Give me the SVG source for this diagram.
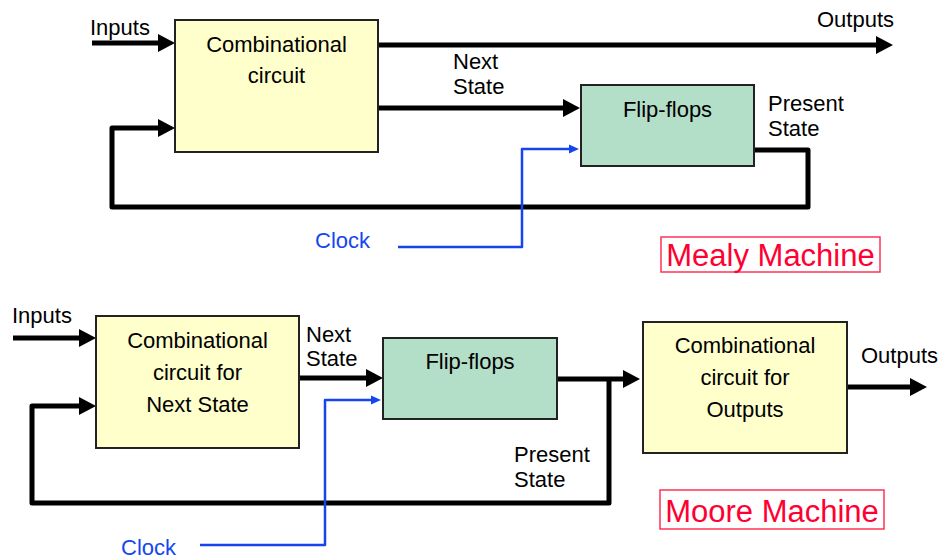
<svg xmlns="http://www.w3.org/2000/svg" width="941" height="559" viewBox="0 0 941 559">
<style>
text{font-family:"Liberation Sans",Arial,sans-serif;font-size:22px;fill:#000}
.c{text-anchor:middle}
.comb{fill:#FFFFCC;stroke:#222;stroke-width:2}
.ff{fill:#B3DEC8;stroke:#222;stroke-width:2}
.w{fill:none;stroke:#000;stroke-width:5;stroke-linejoin:round}
.clk{fill:none;stroke:#1446F0;stroke-width:2.5;stroke-linejoin:round}
.blue{fill:#1446F0}
.title{fill:#FF0033;font-size:31px}
.tbox{fill:none;stroke:#FF3355;stroke-width:1.5}
</style>
<defs>
<marker id="ah" markerUnits="userSpaceOnUse" markerWidth="17" markerHeight="18" refX="5" refY="9" orient="auto"><path d="M0,0 L17,9 L0,18 z" fill="#000"/></marker>
<marker id="ab" markerUnits="userSpaceOnUse" markerWidth="10" markerHeight="10" refX="3" refY="5" orient="auto"><path d="M0,0.5 L10,5 L0,9.5 z" fill="#1446F0"/></marker>
</defs>

<g id="connectors">
<!-- Mealy -->
<path class="w" d="M92,43 H163" marker-end="url(#ah)"/>
<path class="w" d="M378,45 H881" marker-end="url(#ah)"/>
<path class="w" d="M378,108 H568" marker-end="url(#ah)"/>
<path class="w" d="M754,150 H808 V207 H112 V128 H163" marker-end="url(#ah)"/>
<path class="clk" d="M398,247 H522 V149 H572" marker-end="url(#ab)"/>
<!-- Moore -->
<path class="w" d="M13,338 H84" marker-end="url(#ah)"/>
<path class="w" d="M609,379 V503 H32 V406 H84" marker-end="url(#ah)"/>
<path class="w" d="M299,378 H371" marker-end="url(#ah)"/>
<path class="w" d="M557,379 H628" marker-end="url(#ah)"/>
<path class="w" d="M847,387 H915" marker-end="url(#ah)"/>
<path class="clk" d="M200,545 H325 V400 H374" marker-end="url(#ab)"/>
</g>

<g id="labels">
<text x="90" y="35">Inputs</text>
<text x="817" y="27">Outputs</text>
<text x="453" y="69">Next</text>
<text x="453" y="94">State</text>
<text x="768" y="111">Present</text>
<text x="768" y="136">State</text>
<text class="blue" x="315" y="248">Clock</text>
<text x="12" y="323">Inputs</text>
<text x="306" y="342">Next</text>
<text x="306" y="366">State</text>
<text x="514" y="462">Present</text>
<text x="514" y="487">State</text>
<text x="861" y="363">Outputs</text>
<text class="blue" x="121" y="555">Clock</text>
</g>

<g id="mealy-comb">
<rect class="comb" x="175" y="20" width="203" height="132"/>
<text class="c" x="276.5" y="52">Combinational</text>
<text class="c" x="276.5" y="83">circuit</text>
</g>
<g id="mealy-ff">
<rect class="ff" x="581" y="85" width="173" height="81"/>
<text class="c" x="667.5" y="117">Flip-flops</text>
</g>
<g id="mealy-title">
<rect class="tbox" x="661" y="237" width="219" height="35"/>
<text class="title c" x="770.5" y="266">Mealy Machine</text>
</g>

<g id="moore-comb-ns">
<rect class="comb" x="96" y="316" width="203" height="132"/>
<text class="c" x="197.5" y="348">Combinational</text>
<text class="c" x="197.5" y="380">circuit for</text>
<text class="c" x="197.5" y="412">Next State</text>
</g>
<g id="moore-ff">
<rect class="ff" x="383" y="338" width="174" height="81"/>
<text class="c" x="470" y="369">Flip-flops</text>
</g>
<g id="moore-comb-out">
<rect class="comb" x="643" y="322" width="204" height="131"/>
<text class="c" x="745" y="353">Combinational</text>
<text class="c" x="745" y="385">circuit for</text>
<text class="c" x="745" y="417">Outputs</text>
</g>
<g id="moore-title">
<rect class="tbox" x="660" y="490" width="224" height="39"/>
<text class="title c" x="772" y="522">Moore Machine</text>
</g>
</svg>
